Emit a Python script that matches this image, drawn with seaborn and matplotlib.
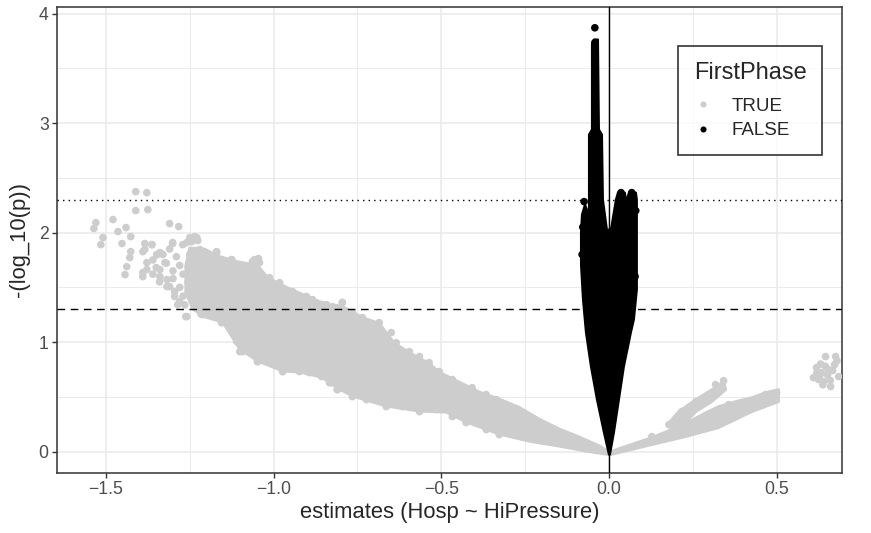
import numpy as np
import pandas as pd
import matplotlib
matplotlib.use("Agg")
import matplotlib.pyplot as plt
import seaborn as sns
from matplotlib.ticker import MultipleLocator

# -----------------------------
# Points (estimate, -log10 p)
# -----------------------------
# FirstPhase == TRUE, isolated dots on the far left
true_left_x = [-1.411, -1.378, -1.411, -1.375, -1.530, -1.536, -1.509, -1.515,
               -1.479, -1.464, -1.440, -1.426, -1.452, -1.426, -1.429, -1.438,
               -1.443, -1.310, -1.283, -1.235, -1.226, -1.259, -1.301, -1.390,
               -1.363, -1.170, -1.125, -1.063, -1.045, -1.262, -1.217, -1.390,
               -1.378, -1.339, -1.318, -1.310, -1.280, -1.155, -1.101, -1.048,
               -0.973, -0.923, -0.833, -0.810, -0.795, -1.348, -1.384, -1.250,
               -1.339]
true_left_y = [2.374, 2.365, 2.201, 2.210, 2.091, 2.037, 1.954, 1.890,
               2.119, 2.009, 2.046, 1.963, 1.900, 1.826, 1.772, 1.689,
               1.616, 2.082, 2.055, 1.963, 1.927, 1.909, 1.900, 1.826,
               1.890, 1.826, 1.753, 1.735, 1.763, 1.233, 1.260, 1.598,
               1.662, 1.662, 1.571, 1.507, 1.370, 1.178, 0.913, 0.822,
               0.731, 0.731, 0.630, 0.566, 1.361, 1.799, 1.900, 1.954,
               1.817]

# FirstPhase == TRUE, dots in the looser left end of the big cloud
true_mid_x = [-1.360, -1.350, -1.330, -1.320, -1.300, -1.300, -1.290, -1.280,
              -1.280, -1.270, -1.270, -1.360, -1.310, -1.340, -1.295, -1.255,
              -1.245, -1.250, -1.265, -1.240]
true_mid_y = [1.750, 1.680, 1.800, 1.720, 1.650, 1.580, 1.780, 1.700,
              1.500, 1.620, 1.420, 1.620, 1.850, 1.550, 1.460, 1.550,
              1.700, 1.800, 1.340, 1.380]

# FirstPhase == TRUE, dots along the edges of the big grey cloud
true_edge_x = [-1.363, -1.384, -1.348, -1.378, -1.390, -1.324, -1.339, -1.318,
               -1.295, -1.286, -1.259, -1.214, -1.170, -1.155, -1.125, -1.110,
               -1.092, -1.048, -1.012, -0.973, -0.932, -0.893, -0.857, -0.827,
               -0.810, -1.301, -1.271, -1.244, -1.229, -1.220, -1.170, -1.167,
               -1.140, -1.125, -1.101, -1.057, -1.042, -1.063, -1.012, -0.982,
               -0.943, -0.902, -0.884, -0.842, -0.813, -0.854, -0.824, -0.795,
               -0.765, -0.735, -0.685, -0.649, -0.634, -0.595, -0.565, -0.536,
               -0.506, -0.467, -0.408, -0.366, -0.336, -0.833, -0.765, -0.723,
               -0.664, -0.616, -0.565, -0.515, -0.467, -0.426, -0.366, -0.327]
true_edge_y = [1.890, 1.845, 1.799, 1.726, 1.635, 1.726, 1.598, 1.507,
               1.416, 1.342, 1.233, 1.251, 1.251, 1.178, 1.114, 1.005,
               0.913, 0.822, 0.822, 0.731, 0.813, 0.721, 0.685, 0.630,
               0.566, 1.909, 1.890, 1.918, 1.954, 1.845, 1.817, 1.726,
               1.726, 1.753, 1.680, 1.753, 1.726, 1.662, 1.589, 1.543,
               1.461, 1.416, 1.388, 1.342, 1.315, 1.342, 1.324, 1.361,
               1.269, 1.224, 1.178, 1.087, 0.995, 0.913, 0.868, 0.813,
               0.731, 0.658, 0.584, 0.521, 0.475, 0.630, 0.502, 0.475,
               0.411, 0.411, 0.365, 0.384, 0.320, 0.265, 0.201, 0.155]

# FirstPhase == TRUE, dots right of zero (two arms and the cluster near 0.65)
true_right_x = [0.646, 0.676, 0.619, 0.610, 0.661, 0.634, 0.685, 0.655,
                0.673, 0.640, 0.625, 0.631, 0.652, 0.667, 0.628, 0.645,
                0.680, 0.620, 0.660, 0.638,
                0.342, 0.318, 0.500, 0.476,
                0.128, 0.229, 0.289, 0.327, 0.378, 0.426, 0.467,
                0.179, 0.217, 0.259, 0.298, 0.327, 0.318, 0.357]
true_right_y = [0.868, 0.868, 0.767, 0.676, 0.594, 0.721, 0.685, 0.749,
                0.795, 0.639, 0.658, 0.800, 0.700, 0.740, 0.690, 0.780,
                0.830, 0.720, 0.650, 0.610,
                0.648, 0.612, 0.539, 0.521,
                0.137, 0.201, 0.265, 0.320, 0.384, 0.457, 0.521,
                0.247, 0.365, 0.457, 0.521, 0.584, 0.365, 0.429]

# FirstPhase == FALSE, isolated dots at the tops and edges of the spike
false_x = [-0.042, -0.042, 0.036, 0.068, -0.074, -0.078, -0.080, 0.080, 0.078]
false_y = [3.870, 3.735, 2.365, 2.365, 2.283, 2.050, 1.800, 2.200, 1.600]

# -----------------------------
# Outlines of the areas where the dots overlap completely
# -----------------------------
band_up_x = [-1.250, -1.2054, -1.1696, -1.1161, -1.0476, -1.0179,
             -0.9613, -0.8869, -0.8333, -0.7946, -0.7351, -0.6845, -0.6399,
             -0.5952, -0.5357, -0.5060, -0.4464, -0.3869, -0.3274, -0.2679,
             -0.2083, -0.1488, -0.0893, -0.0298, 0.0]
band_up_y = [1.860, 1.850, 1.790, 1.740, 1.700, 1.590,
             1.500, 1.400, 1.335, 1.325, 1.225, 1.170, 0.990,
             0.905, 0.805, 0.725, 0.635, 0.545, 0.480, 0.405,
             0.298, 0.208, 0.135, 0.055, 0.0]
band_lo_x = [0.0, -0.0595, -0.1488, -0.2381, -0.3274, -0.4256, -0.4851,
             -0.5655, -0.6637, -0.7649, -0.8095, -0.8571, -0.9226, -0.9732,
             -1.0476, -1.1012, -1.1518, -1.2054, -1.240, -1.262, -1.262]
band_lo_y = [-0.027, 0.0, 0.050, 0.095, 0.160, 0.270, 0.360,
             0.370, 0.415, 0.507, 0.580, 0.680, 0.726, 0.736,
             0.827, 0.937, 1.183, 1.230, 1.300, 1.450, 1.700]

arm_lo_x = [0.006, 0.0298, 0.128, 0.229, 0.289, 0.327, 0.378, 0.426, 0.467, 0.506,
            0.506, 0.426, 0.327, 0.229, 0.128, 0.0298, 0.006]
arm_lo_y = [0.0, 0.027, 0.128, 0.256, 0.356, 0.411, 0.457, 0.493, 0.539, 0.566,
            0.457, 0.365, 0.219, 0.137, 0.064, -0.009, -0.027]

arm_up_x = [0.179, 0.208, 0.259, 0.307, 0.342, 0.348, 0.307, 0.259, 0.217, 0.1875]
arm_up_y = [0.265, 0.365, 0.475, 0.566, 0.639, 0.566, 0.457, 0.365, 0.228, 0.174]

spike_x = [0.000, -0.0149, -0.0357, -0.0536, -0.0685, -0.0774, -0.0833, -0.0833,
           -0.0804, -0.0714, -0.0595, -0.0595, -0.0506, -0.0506, -0.0446, -0.0327,
           -0.0298, -0.0208, -0.0179, -0.0060, 0.0060, 0.0208, 0.0268, 0.0476,
           0.0506, 0.0506, 0.0536, 0.0595, 0.0804, 0.0833, 0.0833, 0.0744,
           0.0655, 0.0446, 0.0298, 0.0149, 0.003]
spike_y = [-0.027, 0.174, 0.475, 0.776, 1.087, 1.388, 1.708, 2.000,
           2.164, 2.256, 2.164, 2.895, 2.941, 3.717, 3.763, 3.763,
           2.941, 2.895, 2.301, 2.027, 2.027, 2.301, 2.365, 2.365,
           2.301, 1.817, 2.301, 2.365, 2.365, 2.301, 1.479, 1.205,
           1.087, 0.776, 0.475, 0.174, -0.027]

grey = "#CCCDCC"

true_x = true_left_x + true_mid_x + true_edge_x + true_right_x
true_y = true_left_y + true_mid_y + true_edge_y + true_right_y
df = pd.DataFrame({
    "estimates": true_x + false_x,
    "logp": true_y + false_y,
    "FirstPhase": ["TRUE"] * len(true_x) + ["FALSE"] * len(false_x),
})

sns.set_style("white")
plt.rcParams["font.family"] = ["Liberation Sans", "DejaVu Sans"]

fig = plt.figure(figsize=(8.71, 5.33), dpi=100)
ax = fig.add_axes([0.0654, 0.1126, 0.9013, 0.8743])

# dense areas
ax.fill(band_up_x + band_lo_x, band_up_y + band_lo_y, color=grey, lw=2,
        joinstyle="round", zorder=2)
ax.fill(arm_lo_x, arm_lo_y, color=grey, lw=2, joinstyle="round", zorder=2)
ax.fill(arm_up_x, arm_up_y, color=grey, lw=2, joinstyle="round", zorder=2)
ax.fill(spike_x, spike_y, color="black", lw=1.5, joinstyle="round", zorder=2.5)

sns.scatterplot(data=df, x="estimates", y="logp", hue="FirstPhase",
                hue_order=["TRUE", "FALSE"],
                palette={"TRUE": grey, "FALSE": "black"},
                s=30, linewidth=0, ax=ax, zorder=3)

ax.axhline(-np.log10(0.005), color="black", lw=1.0, ls=(0, (1, 3)), zorder=4)
ax.axhline(-np.log10(0.05), color="black", lw=1.0, ls=(0, (5.5, 4)), zorder=4)
ax.axvline(0, color="black", lw=1.0, zorder=4)

ax.set_xlim(-1.646, 0.695)
ax.set_ylim(-0.195, 4.06)
ax.set_xticks([-1.5, -1.0, -0.5, 0.0, 0.5])
ax.xaxis.set_minor_locator(MultipleLocator(0.25))
ax.yaxis.set_major_locator(MultipleLocator(1))
ax.yaxis.set_minor_locator(MultipleLocator(0.5))

ax.set_axisbelow(True)
ax.grid(which="major", color="#EBEBEB", lw=1.2)
ax.grid(which="minor", color="#EBEBEB", lw=0.7)
for sp in ax.spines.values():
    sp.set_color("#333333")
    sp.set_linewidth(1.1)
ax.tick_params(which="major", length=3.5, width=1.0, color="#333333",
               labelcolor="#4D4D4D", labelsize=12.7, pad=2.5,
               bottom=True, left=True)
ax.tick_params(which="minor", length=0)

ax.set_xlabel("estimates (Hosp ~ HiPressure)", fontsize=15.8, labelpad=3)
ax.set_ylabel("-(log_10(p))", fontsize=15.8, labelpad=6)

sns.move_legend(ax, "upper right", bbox_to_anchor=(0.975, 0.917),
                borderaxespad=0, title="FirstPhase", fontsize=13.5,
                title_fontsize=17, frameon=True, fancybox=False,
                handlelength=1.0, handletextpad=1.0, labelspacing=0.4,
                borderpad=0.85, alignment="left", markerscale=0.8)
leg = ax.get_legend()
leg.get_frame().set_edgecolor("black")
leg.get_frame().set_linewidth(1.2)
leg._legend_box.sep = 10  # extra room under the legend title

plt.savefig("out.png", dpi=100)
